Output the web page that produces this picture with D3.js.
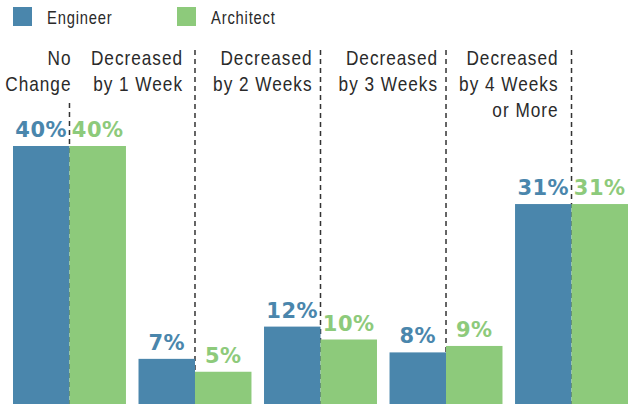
<!DOCTYPE html>
<html>
<head>
<meta charset="utf-8">
<script src="https://cdn.jsdelivr.net/npm/d3@7"></script>
<style>
  html, body { margin: 0; padding: 0; background: #fff; }
  svg { display: block; }
</style>
</head>
<body>
<div id="chart"></div>
<script>
// Change in schedule, share of respondents by profession
const categories = ["No Change", "Decreased by 1 Week", "Decreased by 2 Weeks", "Decreased by 3 Weeks", "Decreased by 4 Weeks or More"];
const categoryLines = [["No", "Change"], ["Decreased", "by 1 Week"], ["Decreased", "by 2 Weeks"], ["Decreased", "by 3 Weeks"], ["Decreased", "by 4 Weeks", "or More"]];
const seriesNames = ["Engineer", "Architect"];
const engineer = [40, 7, 12, 8, 31];
const architect = [40, 5, 10, 9, 31];
const colors = ["#4a86ac", "#8dca7b"];

const W = 636, H = 404;
const svg = d3.select("#chart").append("svg").attr("width", W).attr("height", H);

// Condensed look: a sans face squeezed horizontally, with a little tracking
const textFont = "'Liberation Sans', Arial, sans-serif";
const squeeze = 0.82;
const valueFont = "'DejaVu Sans', sans-serif";
const ink = "#2a2a2a";

const rows = categories.map((c, i) => ({ cat: c, lines: categoryLines[i], vals: [engineer[i], architect[i]] }));

const x0 = d3.scaleBand().domain(categories).range([13, 628]).paddingInner(0.1).paddingOuter(0);
const x1 = d3.scaleBand().domain(seriesNames).range([0, x0.bandwidth()]).padding(0);
const y = d3.scaleLinear().domain([0, 40]).range([H, 146]);

// Dashed separators through the middle of each pair
const dashTop = [103, 50, 50, 50, 50];
svg.append("g").selectAll("line").data(rows).join("line")
  .attr("x1", d => x0(d.cat) + x0.bandwidth() / 2)
  .attr("x2", d => x0(d.cat) + x0.bandwidth() / 2)
  .attr("y1", (d, i) => dashTop[i])
  .attr("y2", H)
  .attr("stroke", "#333")
  .attr("stroke-width", 1.5)
  .attr("stroke-dasharray", "5,4");

// Bars
const groups = svg.append("g").selectAll("g").data(rows).join("g")
  .attr("transform", d => `translate(${x0(d.cat)},0)`);

groups.selectAll("rect").data(d => d.vals.map((v, k) => ({ s: seriesNames[k], v, k }))).join("rect")
  .attr("x", d => x1(d.s))
  .attr("y", d => y(d.v))
  .attr("width", x1.bandwidth())
  .attr("height", d => H - y(d.v))
  .attr("fill", d => colors[d.k]);

// Value labels
groups.selectAll("text.val").data(d => d.vals.map((v, k) => ({ s: seriesNames[k], v, k }))).join("text")
  .attr("class", "val")
  .attr("x", d => x1(d.s) + x1.bandwidth() / 2)
  .attr("y", d => y(d.v) - 9)
  .attr("text-anchor", "middle")
  .attr("font-family", valueFont)
  .attr("font-weight", "bold")
  .attr("font-size", 21)
  .attr("letter-spacing", 0.5)
  .attr("fill", d => colors[d.k])
  .text(d => d.v + "%");

// Category labels, right-aligned against the separator
const labelShift = [2, -12, -8, -8, -13];
const catText = svg.append("g").selectAll("text").data(rows).join("text")
  .attr("transform", (d, i) => `translate(${x0(d.cat) + x0.bandwidth() / 2 + labelShift[i]},0) scale(${squeeze},1)`)
  .attr("text-anchor", "end")
  .attr("font-family", textFont)
  .attr("font-size", 21)
  .attr("letter-spacing", 1.2)
  .attr("fill", ink);
catText.selectAll("tspan").data(d => d.lines).join("tspan")
  .attr("x", 0)
  .attr("y", (t, j) => 65 + j * 26)
  .text(t => t);

// Legend
const legend = svg.append("g").selectAll("g").data(seriesNames).join("g")
  .attr("transform", (d, i) => `translate(${13 + i * 164},7)`);
legend.append("rect").attr("width", 19).attr("height", 19).attr("fill", (d, i) => colors[i]);
legend.append("text")
  .attr("transform", `translate(34,17) scale(${squeeze},1)`)
  .attr("font-family", textFont)
  .attr("font-size", 18)
  .attr("letter-spacing", 1)
  .attr("fill", ink)
  .text(d => d);
</script>
</body>
</html>
